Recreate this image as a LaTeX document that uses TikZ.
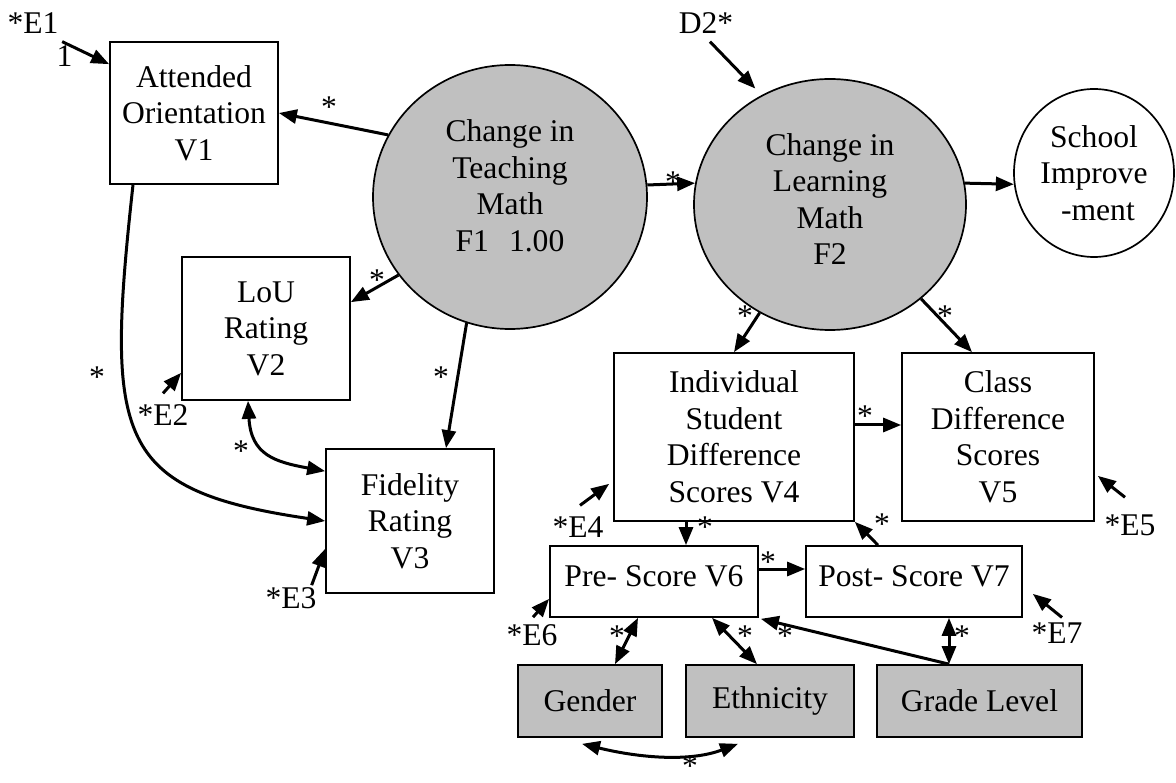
\documentclass[tikz,border=0pt]{standalone}
\usepackage{fontspec}
\setmainfont{Liberation Serif}
\usetikzlibrary{shapes, arrows.meta, calc, positioning}
\definecolor{factorgray}{RGB}{192,192,192}

\begin{document}
\begin{tikzpicture}[x = 1pt, y = -1pt,
                every node/.style = {font = \fontsize{31.6}{36.5}\selectfont},
                var/.style = {draw, line width = 1.7pt, align = center, inner sep = 0pt},
                fixed/.style = {var, fill = factorgray},
                factor/.style = {draw, ellipse, line width = 1.7pt, inner sep = 0pt},
                lbl/.style = {inner sep = 1pt},
                effect/.style = {line width = 3pt, -{Triangle[length = 18pt, width = 14pt]}},
                covar/.style = {line width = 3pt, {Triangle[length = 18pt, width = 14pt]}-{Triangle[length = 18pt, width = 14pt]}}]
                \useasboundingbox (0, 0) rectangle (1176, 783);

                \node [var, minimum width = 168pt, minimum height = 142pt] (V1) at (194, 113) {Attended\\Orientation\\V1};
                \node [var, minimum width = 168pt, minimum height = 143pt] (V2) at (266, 328.5) {LoU\\Rating\\V2};
                \node [var, minimum width = 168pt, minimum height = 144pt] (V3) at (410, 521) {Fidelity\\Rating\\V3};
                \node [var, minimum width = 240pt, minimum height = 168pt] (V4) at (734, 437) {Individual\\Student\\Difference\\Scores V4};
                \node [var, minimum width = 192pt, minimum height = 168pt] (V5) at (998, 437) {Class\\Difference\\Scores\\V5};
                \node [var, minimum width = 208pt, minimum height = 71pt, text depth = 10pt] (V6) at (654, 581.5) {Pre- Score V6};
                \node [var, minimum width = 216pt, minimum height = 71pt, text depth = 10pt] (V7) at (914, 581.5) {Post- Score V7};

                \node [fixed, minimum width = 144pt, minimum height = 72pt] (G) at (590, 701) {Gender};
                \node [fixed, minimum width = 168pt, minimum height = 72pt] (Eth) at (770, 701) {Ethnicity};
                \node [fixed, minimum width = 205pt, minimum height = 72pt] (GL) at (979.5, 701) {Grade Level};

                \node [factor, fill = factorgray, minimum width = 274pt, minimum height = 264pt] (F1) at (510, 197) {};
                \node [align = center] (F1t) at (510, 186) {Change in\\Teaching\\Math\\F1\hspace{20pt}1.00};
                \node [factor, fill = factorgray, minimum width = 272pt, minimum height = 251pt] (F2) at (830, 204.5) {};
                \node [align = center] (F2t) at (830, 199) {Change in\\Learning\\Math\\F2};
                \node [factor, minimum width = 160pt, minimum height = 168pt, align = center] (SI) at (1094, 173) {School\\Improve\\~-ment};

                \node [lbl] (E1) at (33, 23) {*E1};
                \node [lbl] (E2) at (163, 415) {*E2};
                \node [lbl] (E3) at (291, 598) {*E3};
                \node [lbl] (E4) at (578, 527) {*E4};
                \node [lbl] (E5) at (1130, 525) {*E5};
                \node [lbl] (E6) at (532, 635) {*E6};
                \node [lbl] (E7) at (1057, 633) {*E7};
                \node [lbl] (D2) at (706, 23) {D2*};

                \draw [effect] ([shift = {(2.5, 7)}]E1.south east) -- ([shift = {(0, 23)}]V1.north west)
                        node (one) [pos = 0.05, anchor = north, lbl] {1};
                \draw [effect] ([shift = {(0, -10)}]E2.north) -- ([shift = {(0, -28)}]V2.south west);
                \draw [effect] ([shift = {(-6, -1)}]E3.north east) -- ([shift = {(0, -45)}]V3.south west);
                \draw [effect] ([shift = {(2, -10)}]E4.north) -- ([shift = {(-4, -38)}]V4.south west);
                \draw [effect] ([shift = {(-5, -16)}]E5.north) -- ([shift = {(3, -46)}]V5.south east);
                \draw [effect] ([shift = {(1, -6)}]E6.north) -- ([shift = {(0, -19)}]V6.south west);
                \draw [effect] ([shift = {(5, -4)}]E7.north) -- ([shift = {(10, -24)}]V7.south east);
                \draw [effect, shorten >= 9pt] ([shift = {(4, 7)}]D2.south) -- (F2.122);

                \draw [effect] (F1.153) -- (V1.east);
                \draw [effect] (F1.215) -- ([shift = {(0, 46)}]V2.north east);
                \draw [effect] (F1.251) -- ([shift = {(36, 0)}]V3.north);
                \draw [effect] (F1.5) -- (F2.171);
                \draw [effect] (F2.9) -- (SI.188);
                \draw [effect] (F2.237) -- (V4.north);
                \draw [effect] (F2.314) -- ([shift = {(-26, 0)}]V5.north);
                \draw [effect] ([shift = {(0, -12)}]V4.east) -- ([shift = {(0, -12)}]V5.west);
                \draw [effect] ([shift = {(-48, 0)}]V4.south) -- ([shift = {(32, 0)}]V6.north);
                \draw [effect] ([shift = {(0, -12.5)}]V6.east) -- ([shift = {(0, -12.5)}]V7.west);
                \draw [effect] ([shift = {(-36, 0)}]V7.north) -- (V4.south east);
                \draw [effect] ([shift = {(-30.5, 0)}]GL.north) -- ([shift = {(2, 1)}]V6.south east);
                \draw [covar] ([shift = {(-30.5, 0)}]GL.north) -- ([shift = {(35, 0)}]V7.south);
                \draw [covar] ([shift = {(25, 0)}]G.north) -- ([shift = {(-16, 0)}]V6.south);
                \draw [covar] ([shift = {(-13, 0)}]Eth.north) -- ([shift = {(58, 0)}]V6.south);
                \draw [covar] ([shift = {(-8, 6)}]G.south) .. controls (640, 758) and (690, 762) .. ([shift = {(-32, 6)}]Eth.south);
                \draw [covar] ([shift = {(-18, 0)}]V2.south) .. controls (251, 455) and (275, 462) .. ([shift = {(0, 23)}]V3.north west);
                \draw [effect] ([shift = {(-61, 0)}]V1.south) .. controls (105, 440) and (115, 490) .. (V3.west);

                \node [lbl] (a1) at (329, 107) {*};
                \node [lbl] (a2) at (377, 280) {*};
                \node [lbl] (a3) at (441, 377) {*};
                \node [lbl] (a4) at (97, 377) {*};
                \node [lbl] (a5) at (241, 451) {*};
                \node [lbl] (a6) at (673, 182) {*};
                \node [lbl] (a7) at (745, 316) {*};
                \node [lbl] (a8) at (945, 316) {*};
                \node [lbl] (a9) at (865, 416) {*};
                \node [lbl] (a10) at (705, 527) {*};
                \node [lbl] (a11) at (768, 562) {*};
                \node [lbl] (a12) at (882, 524) {*};
                \node [lbl] (a13) at (617, 636) {*};
                \node [lbl] (a14) at (745, 636) {*};
                \node [lbl] (a15) at (785, 636) {*};
                \node [lbl] (a16) at (962, 636) {*};
                \node [lbl, inner sep = 0pt] (a17) at (690, 766) {*};
            \end{tikzpicture}
\end{document}
